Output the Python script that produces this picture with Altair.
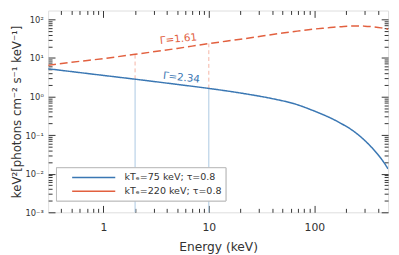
import altair as alt
import pandas as pd

# ---- data ----
label_blue = "kTₑ=75 keV; τ=0.8"
label_red = "kTₑ=220 keV; τ=0.8"

energy_blue = [0.3, 0.5, 1, 2, 5, 10, 22, 40, 65, 100, 134, 180, 238, 300, 341, 400, 454, 500]
flux_blue = [5.23, 4.42, 3.52, 2.81, 2.06, 1.62, 1.18, 0.88, 0.645, 0.42, 0.30, 0.199, 0.124,
             0.073, 0.0516, 0.0315, 0.020, 0.0133]

energy_red = [0.3, 0.5, 1, 2, 5, 10, 20, 32, 50, 65, 100, 134, 190, 250, 300, 366, 430, 500]
flux_red = [6.4, 7.7, 9.6, 12.4, 17.6, 23.5, 30.5, 36.8, 44, 48.5, 56, 60, 65.5, 67, 66.5,
            63.5, 60, 55.5]

marker_energy = [2, 10]
marker_blue = [2.81, 1.62]
marker_red = [12.4, 23.5]

gamma_text = ["Γ=2.34", "Γ=1.61"]
gamma_energy = [5.5, 5.15]
gamma_flux = [3.04, 30.5]

x_major = [1, 10, 100]
x_minor = [0.4, 0.5, 0.6, 0.7, 0.8, 0.9, 2, 3, 4, 5, 6, 7, 8, 9,
           20, 30, 40, 50, 60, 70, 80, 90, 200, 300, 400]
y_major = [0.001, 0.01, 0.1, 1, 10, 100]
y_major_labels = ["10⁻³", "10⁻²", "10⁻¹", "10⁰", "10¹", "10²"]
y_minor = [m * d for d in [0.001, 0.01, 0.1, 1, 10] for m in range(2, 10)]

# ---- tables ----
curves = pd.DataFrame({
    "E": energy_blue + energy_red,
    "flux": flux_blue + flux_red,
    "series": [label_blue] * len(energy_blue) + [label_red] * len(energy_red),
})
rules_blue = pd.DataFrame({"E": marker_energy, "lo": [0.001] * 2, "hi": marker_blue})
rules_red = pd.DataFrame({"E": marker_energy, "lo": marker_blue, "hi": marker_red})
gammas = pd.DataFrame({"E": gamma_energy, "flux": gamma_flux, "t": gamma_text})

BLUE = "#3a77b3"
RED = "#e2603f"
FONT = "DejaVu Sans"
TXT = "#333333"

xs = alt.Scale(type="log", domain=[0.3, 500], nice=False)
ys = alt.Scale(type="log", domain=[0.001, 169], nice=False)

label_expr = "[" + ",".join("'%s'" % s for s in y_major_labels) + "][round(log(datum.value)/LN10)+3]"

x_main = alt.Axis(orient="bottom", values=x_major, labelExpr="format(datum.value, 'd')",
                  ticks=False, domain=False, grid=False, labelFont=FONT, labelFontSize=11,
                  labelColor=TXT, labelPadding=10, title="Energy (keV)", titleFont=FONT,
                  titleFontSize=12.5, titleFontWeight="normal", titleColor=TXT, titlePadding=8)
y_main = alt.Axis(orient="left", values=y_major, labelExpr=label_expr, ticks=False,
                  domain=False, grid=False, labelFont=FONT, labelFontSize=8.5, labelColor=TXT,
                  labelPadding=5, title="keV²[photons cm⁻² s⁻¹ keV⁻¹]", titleFont=FONT,
                  titleFontSize=12, titleFontWeight="normal", titleColor=TXT, titlePadding=2)


def tick_axis(orient, values, size):
    return alt.Axis(orient=orient, values=values, labels=False, domain=False, ticks=True,
                    tickSize=size, offset=-size, title=None, grid=False, tickColor=TXT,
                    tickWidth=1)


rule_b = alt.Chart(rules_blue).mark_rule(color="#aac8e2", strokeWidth=1).encode(
    x=alt.X("E:Q", scale=xs, axis=None),
    y=alt.Y("lo:Q", scale=ys, axis=None),
    y2="hi:Q",
)
rule_r = alt.Chart(rules_red).mark_rule(color="#f5b3a3", strokeWidth=1, strokeDash=[4, 3]).encode(
    x=alt.X("E:Q", scale=xs, axis=None),
    y=alt.Y("lo:Q", scale=ys, axis=None),
    y2="hi:Q",
)

legend = alt.Legend(orient="none", legendX=8, legendY=160, title=None,
                    symbolType="M0,0L8,0", symbolSize=121, symbolStrokeWidth=1.5,
                    symbolOffset=6, labelFont=FONT, labelFontSize=9.7, labelColor=TXT,
                    strokeColor="#bbbbbb", fillColor="white", padding=4, rowPadding=2,
                    labelOffset=47, cornerRadius=0)

lines = alt.Chart(curves).mark_line(clip=True, strokeWidth=1.5, interpolate="monotone").encode(
    x=alt.X("E:Q", scale=xs, axis=x_main),
    y=alt.Y("flux:Q", scale=ys, axis=y_main),
    color=alt.Color("series:N", scale=alt.Scale(domain=[label_blue, label_red], range=[BLUE, RED]),
                    legend=legend),
    strokeDash=alt.StrokeDash("series:N",
                              scale=alt.Scale(domain=[label_blue, label_red], range=[[1, 0], [8, 4]]),
                              legend=legend),
)

texts = alt.Chart(gammas).mark_text(font=FONT, fontSize=10.5).encode(
    x=alt.X("E:Q", scale=xs, axis=None),
    y=alt.Y("flux:Q", scale=ys, axis=None),
    text="t:N",
    color=alt.Color("t:N", scale=alt.Scale(domain=gamma_text, range=[BLUE, RED]), legend=None),
    angle=alt.Angle("t:N", scale=alt.Scale(domain=gamma_text, range=[6, 354]), legend=None),
)


def tick_layer(xo, yo, xv, yv, size):
    return alt.Chart(curves).mark_line(opacity=0).encode(
        x=alt.X("E:Q", scale=xs, axis=tick_axis(xo, xv, size)),
        y=alt.Y("flux:Q", scale=ys, axis=tick_axis(yo, yv, size)),
        detail="series:N",
    )


chart = alt.layer(
    rule_b, rule_r, lines, texts,
    tick_layer("bottom", "left", x_major, y_major, 7),
    tick_layer("bottom", "left", x_minor, y_minor, 4),
    tick_layer("top", "right", x_major, y_major, 7),
    tick_layer("top", "right", x_minor, y_minor, 4),
).resolve_axis(x="independent", y="independent").resolve_scale(
    color="independent", angle="independent"
).properties(
    width=347, height=206,
    autosize=alt.AutoSizeParams(type="none"),
    padding={"left": 41, "top": 0, "right": 3, "bottom": 40},
).configure_view(stroke="#333333", strokeWidth=1).configure(font=FONT)

chart.save("out.html", embed_options={"renderer": "svg", "actions": False})
